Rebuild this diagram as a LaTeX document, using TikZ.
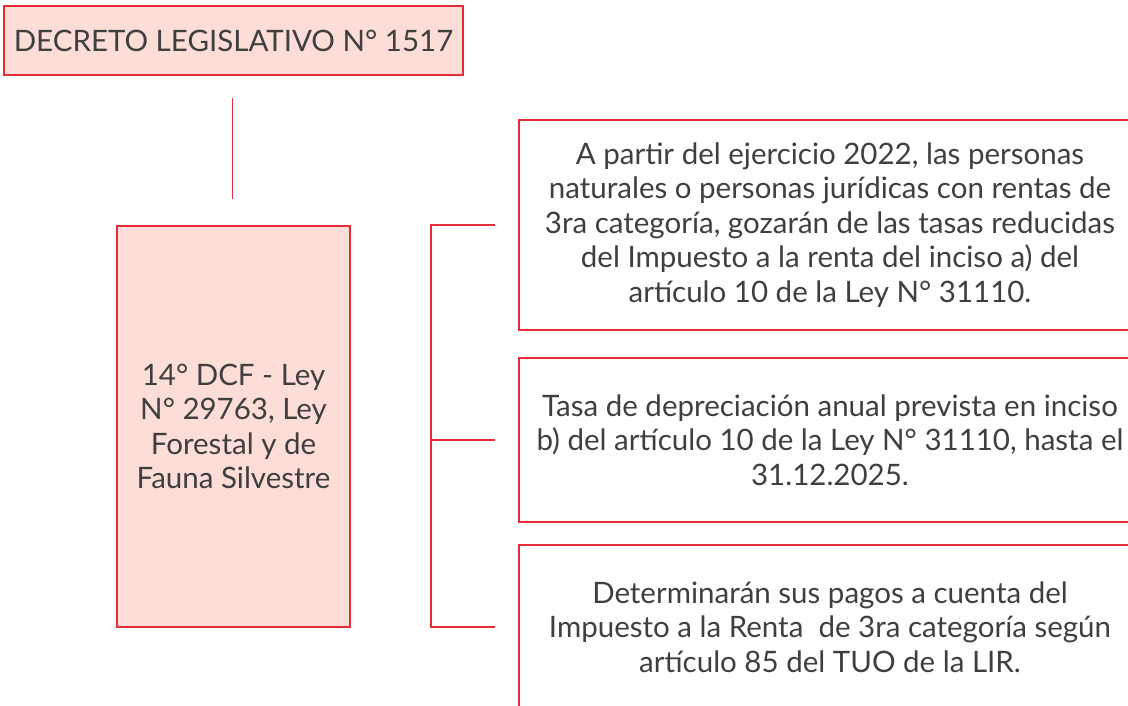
\documentclass[tikz,border=0pt]{standalone}
\usepackage{fontspec}
\setmainfont{Lato}
\definecolor{rojo}{HTML}{E52D3A}
\definecolor{rosa}{HTML}{FCDDD8}
\definecolor{gristexto}{HTML}{3F3F3F}
\tikzset{
  caja/.style={draw=rojo, line width=1.3pt, align=center, text=gristexto, inner sep=0pt},
  linea/.style={draw=rojo, line width=1.3pt}
}
\begin{document}
\begin{tikzpicture}[x=1pt,y=-1pt, font=\fontsize{29.5}{34.5}\selectfont]
\clip (0,0) rectangle (1128,706);

\node [caja, fill=rosa, minimum width=459, minimum height=69] (decreto) at (233.5,40.5) {DECRETO LEGISLATIVO N° 1517};
\node [caja, fill=rosa, minimum width=233, minimum height=401] (ley) at (233.5,426.5) {14° DCF - Ley\\N° 29763, Ley\\Forestal y de\\Fauna Silvestre};

\foreach \n / \y / \h / \t in {
		p1/225/210/{A partir del ejercicio 2022, las personas\\naturales o personas jurídicas con rentas de\\3ra categoría, gozarán de las tasas reducidas\\del Impuesto a la renta del inciso a) del\\artículo 10 de la Ley N° 31110.},
		p2/440/164/{Tasa de depreciación anual prevista en inciso\\b) del artículo 10 de la Ley N° 31110, hasta el\\31.12.2025.},
		p3/627/164/{Determinarán sus pagos a cuenta del\\Impuesto a la Renta\ \ de 3ra categoría según\\artículo 85 del TUO de la LIR.}%
	}
	{%
		\node [caja, minimum width=622, minimum height=\h] (\n) at (830,\y) {\t};
	}

\coordinate (tronco) at (431,226);
\draw [linea] ([yshift=-22pt,xshift=-1pt]decreto.south) -- ([yshift=26pt,xshift=-1pt]ley.north);
\draw [linea] ([xshift=-23pt]p1.west) -- (p1.west -| tronco) -- (p3.west -| tronco) -- ([xshift=-23pt]p3.west);
\draw [linea] ([xshift=-23pt]p2.west) -- (p2.west -| tronco);

\end{tikzpicture}
\end{document}
